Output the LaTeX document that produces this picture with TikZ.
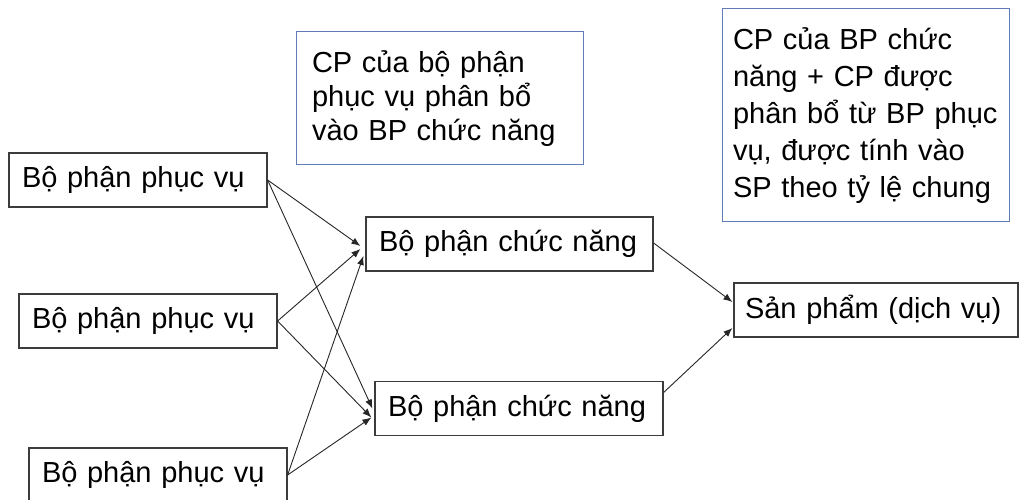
\documentclass[tikz,border=0pt]{standalone}
\usepackage{fontspec}
\setmainfont{Liberation Sans}
\usetikzlibrary{arrows.meta}
\definecolor{boxblue}{RGB}{95,125,180}
\definecolor{boxgray}{RGB}{60,60,60}
\begin{document}
\begin{tikzpicture}[x=1pt,y=1pt,
  unitbox/.style={draw=boxgray,line width=1.2pt,inner xsep=13pt,inner ysep=0pt,
    minimum height=54pt,align=left,font=\fontsize{29}{34}\selectfont,anchor=center},
  notebox/.style={draw=boxblue,line width=1pt,inner ysep=0pt,align=left,anchor=center},
  link/.style={draw=black!85,line width=0.9pt,-{Latex[length=9pt,width=7pt]}}]
\useasboundingbox (0,0) rectangle (1021,-500);
\fill[white] (0,0) rectangle (1021,-500);
% service departments
\node[unitbox,text width=232pt] (s1) at (138,-180) {Bộ phận phục vụ};
\node[unitbox,text width=232pt] (s2) at (148,-321) {Bộ phận phục vụ};
\node[unitbox,text width=232pt] (s3) at (158,-475) {Bộ phận phục vụ};
% functional departments
\node[unitbox,text width=261pt] (f1) at (509.5,-244) {Bộ phận chức năng};
\node[unitbox,text width=262pt] (f2) at (519,-408.5) {Bộ phận chức năng};
% product
\node[unitbox,text width=262pt,inner xsep=11pt] (p) at (876,-310) {Sản phẩm (dịch vụ)};
% notes
\node[notebox,inner xsep=16pt,text width=255pt,minimum height=133pt,
  font=\fontsize{29}{34}\selectfont] (c1) at (439.5,-98.5)
  {CP của bộ phận\\phục vụ phân bổ\\vào BP chức năng};
\node[notebox,inner xsep=11pt,text width=265pt,minimum height=213pt,
  font=\fontsize{29}{37}\selectfont] (c2) at (865.5,-115.5)
  {CP của BP chức\\năng + CP được\\phân bổ từ BP phục\\vụ, được tính vào\\SP theo tỷ lệ chung};
% connectors
\draw[link] (s1.east) -- ([yshift=-2pt,xshift=-5pt]f1.west);
\draw[link] (s1.east) -- ([xshift=-2pt]f2.west);
\draw[link] (s2.east) -- ([yshift=-5pt,xshift=-5pt]f1.west);
\draw[link] (s2.east) -- ([yshift=-9pt,xshift=-3pt]f2.west);
\draw[link] (s3.east) -- ([yshift=-12pt,xshift=-2pt]f1.west);
\draw[link] (s3.east) -- ([yshift=-9pt,xshift=-3pt]f2.west);
\draw[link] ([yshift=1pt]f1.east) -- ([yshift=8pt,xshift=-1pt]p.west);
\draw[link] ([yshift=16pt]f2.east) -- ([yshift=-18pt,xshift=-1pt]p.west);
\end{tikzpicture}
\end{document}
